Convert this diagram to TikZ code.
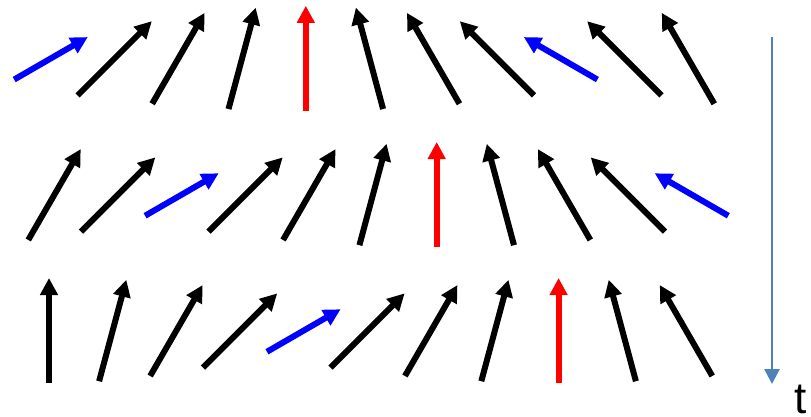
\documentclass[tikz,border=0pt]{standalone}
\usepackage{fontspec}
\setmainfont{Liberation Sans}
\usepackage{tikz}
\usetikzlibrary{arrows.meta,calc}

\definecolor{timeblue}{RGB}{79,129,189}

\tikzset{
  spin/.style={line width=6pt, -{Triangle[length=17pt,width=17pt]}},
  timeaxis/.style={line width=2.7pt, timeblue, -{Triangle[length=15pt,width=15pt]}}
}

\begin{document}
\begin{tikzpicture}[x=1pt, y=1pt]
  \useasboundingbox (0,0) rectangle (811,416);
  % top row
  \foreach \ang/\col/\len [count=\i] in {60/blue/85, 45/black/105, 30/black/105, 15/black/105, 0/red/105,
      -15/black/105, -30/black/105, -45/black/105, -60/blue/85, -45/black/105, -30/black/105} {
    \coordinate (top\i) at ({51+63.7*(\i-1)}, 357.7);
    \draw[spin, \col] (top\i) ++({270-\ang}:\len/2) -- ++({90-\ang}:\len);
  }
  % middle row
  \foreach \ang/\col/\len [count=\i] in {30/black/105, 45/black/105, 60/blue/85, 45/black/105, 30/black/105,
      15/black/105, 0/red/105, -15/black/105, -30/black/105, -45/black/105, -60/blue/85} {
    \coordinate (mid\i) at ({54.5+63.7*(\i-1)}, 221.5);
    \draw[spin, \col] (mid\i) ++({270-\ang}:\len/2) -- ++({90-\ang}:\len);
  }
  % bottom row
  \foreach \ang/\col/\len [count=\i] in {0/black/105, 15/black/105, 30/black/105, 45/black/105, 60/blue/85,
      45/black/105, 30/black/105, 15/black/105, 0/red/105, -15/black/105, -30/black/105} {
    \coordinate (bot\i) at ({49+63.7*(\i-1)}, 85.5);
    \draw[spin, \col] (bot\i) ++({270-\ang}:\len/2) -- ++({90-\ang}:\len);
  }
  % time axis
  \coordinate (tstart) at (772,379);
  \coordinate (tend) at (772,32);
  \draw[timeaxis] (tstart) -- (tend);
  \node[anchor=base west, inner sep=0pt, font=\fontsize{44}{50}\selectfont] (tlabel) at (794,3) {t};
\end{tikzpicture}
\end{document}
